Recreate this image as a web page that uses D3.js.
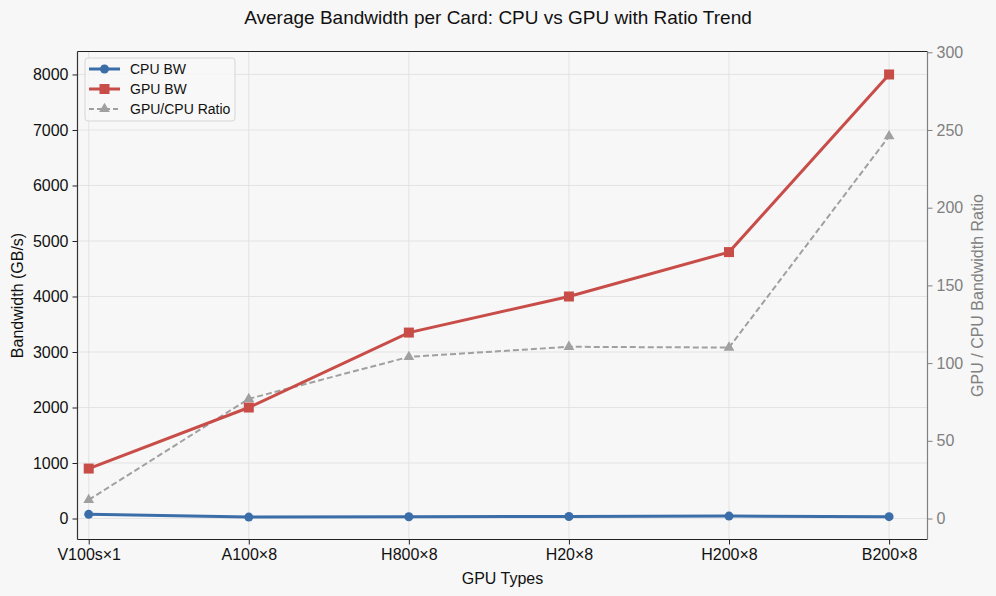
<!DOCTYPE html>
<html>
<head>
<meta charset="utf-8">
<script src="https://cdn.jsdelivr.net/npm/d3@7"></script>
<style>
  body { margin: 0; background: #f7f7f7; }
  svg text { font-family: "Liberation Sans", Arial, sans-serif; }
</style>
</head>
<body>
<div id="chart"></div>
<script>
// data
var categories = ["V100s×1", "A100×8", "H800×8", "H20×8", "H200×8", "B200×8"];
var cpuBW = [75, 26, 32, 36, 44, 33];
var gpuBW = [900, 2000, 3350, 4000, 4800, 8000];
var ratio = [12, 77, 104, 110.5, 110, 246];
var leftTicks = [0, 1000, 2000, 3000, 4000, 5000, 6000, 7000, 8000];
var rightTicks = [0, 50, 100, 150, 200, 250, 300];

(function(){
  "use strict";
  var width = 996, height = 596;
  var m = { left: 77.5, right: 927.5, top: 51.5, bottom: 539.5 };

  var svg = d3.select("#chart").append("svg")
    .attr("width", width)
    .attr("height", height);

  svg.append("rect").attr("width", width).attr("height", height).attr("fill", "#f7f7f7");

  var x = d3.scaleLinear().domain([-0.07, 5.24]).range([m.left, m.right]);
  var yL = d3.scaleLinear().domain([-378, 8414]).range([m.bottom, m.top]);
  var yR = d3.scaleLinear().domain([-13.5, 300.5]).range([m.bottom, m.top]);

  // grid
  var grid = svg.append("g");
  grid.selectAll("line.v").data(categories).enter().append("line")
    .attr("x1", function(d, i){ return x(i); }).attr("x2", function(d, i){ return x(i); })
    .attr("y1", m.top).attr("y2", m.bottom)
    .attr("stroke", "#dedede").attr("stroke-width", 0.8);
  grid.selectAll("line.h").data(leftTicks).enter().append("line")
    .attr("x1", m.left).attr("x2", m.right)
    .attr("y1", function(d){ return yL(d); }).attr("y2", function(d){ return yL(d); })
    .attr("stroke", "#dedede").attr("stroke-width", 0.8);

  // axes
  var xAxis = svg.append("g").attr("transform", "translate(0," + m.bottom + ")")
    .call(d3.axisBottom(x).tickValues(d3.range(categories.length))
      .tickFormat(function(i){ return categories[i]; }).tickSize(5).tickPadding(4));
  var lAxis = svg.append("g").attr("transform", "translate(" + m.left + ",0)")
    .call(d3.axisLeft(yL).tickValues(leftTicks).tickFormat(d3.format("d")).tickSize(5).tickPadding(4));
  var rAxis = svg.append("g").attr("transform", "translate(" + m.right + ",0)")
    .call(d3.axisRight(yR).tickValues(rightTicks).tickFormat(d3.format("d")).tickSize(5).tickPadding(4));

  [xAxis, lAxis].forEach(function(a){
    a.select(".domain").remove();
    a.selectAll("line").attr("stroke", "#222");
    a.selectAll("text").attr("font-size", 16).attr("fill", "#111");
  });
  rAxis.select(".domain").remove();
  rAxis.selectAll("line").attr("stroke", "#808080");
  rAxis.selectAll("text").attr("font-size", 16).attr("fill", "#808080");

  // spines
  svg.append("line").attr("x1", m.left).attr("x2", m.right).attr("y1", m.top).attr("y2", m.top)
    .attr("stroke", "#222").attr("stroke-width", 1.2);
  svg.append("line").attr("x1", m.left).attr("x2", m.right).attr("y1", m.bottom).attr("y2", m.bottom)
    .attr("stroke", "#222").attr("stroke-width", 1.2);
  svg.append("line").attr("x1", m.left).attr("x2", m.left).attr("y1", m.top).attr("y2", m.bottom)
    .attr("stroke", "#333").attr("stroke-width", 1.2);
  svg.append("line").attr("x1", m.right).attr("x2", m.right).attr("y1", m.top).attr("y2", m.bottom)
    .attr("stroke", "#808080").attr("stroke-width", 1.2);

  var blue = "#3b6ea8", red = "#c84d48", gray = "#a0a0a0";

  // ratio line (behind)
  var lineR = d3.line().x(function(d, i){ return x(i); }).y(function(d){ return yR(d); });
  svg.append("path").attr("d", lineR(ratio)).attr("fill", "none")
    .attr("stroke", gray).attr("stroke-width", 2).attr("stroke-dasharray", "6,3");
  var tri = d3.symbol().type(d3.symbolTriangle).size(50);
  svg.selectAll("path.tri").data(ratio).enter().append("path")
    .attr("d", tri).attr("fill", gray)
    .attr("transform", function(d, i){ return "translate(" + x(i) + "," + yR(d) + ")"; });

  var lineL = d3.line().x(function(d, i){ return x(i); }).y(function(d){ return yL(d); });
  svg.append("path").attr("d", lineL(cpuBW)).attr("fill", "none")
    .attr("stroke", blue).attr("stroke-width", 3);
  svg.selectAll("circle.cpu").data(cpuBW).enter().append("circle")
    .attr("cx", function(d, i){ return x(i); }).attr("cy", function(d){ return yL(d); })
    .attr("r", 4.5).attr("fill", blue);

  svg.append("path").attr("d", lineL(gpuBW)).attr("fill", "none")
    .attr("stroke", red).attr("stroke-width", 3);
  svg.selectAll("rect.gpu").data(gpuBW).enter().append("rect")
    .attr("x", function(d, i){ return x(i) - 5; }).attr("y", function(d){ return yL(d) - 5; })
    .attr("width", 10).attr("height", 10).attr("fill", red);

  // titles
  svg.append("text").attr("x", 498).attr("y", 24).attr("text-anchor", "middle")
    .attr("font-size", 19).attr("fill", "#111")
    .text("Average Bandwidth per Card: CPU vs GPU with Ratio Trend");
  svg.append("text").attr("x", (m.left + m.right) / 2).attr("y", 584).attr("text-anchor", "middle")
    .attr("font-size", 16).attr("fill", "#111").text("GPU Types");
  svg.append("text").attr("transform", "translate(23," + (m.top + m.bottom) / 2 + ") rotate(-90)")
    .attr("text-anchor", "middle").attr("font-size", 16).attr("fill", "#111").text("Bandwidth (GB/s)");
  svg.append("text").attr("transform", "translate(983," + (m.top + m.bottom) / 2 + ") rotate(-90)")
    .attr("text-anchor", "middle").attr("font-size", 16).attr("fill", "#808080").text("GPU / CPU Bandwidth Ratio");

  // legend
  var lg = svg.append("g").attr("transform", "translate(85,58)");
  lg.append("rect").attr("width", 150).attr("height", 63).attr("rx", 3)
    .attr("fill", "#f7f7f7").attr("fill-opacity", 0.8).attr("stroke", "#d6d6d6");
  var items = [
    { name: "CPU BW", color: blue, dash: null, w: 3, mark: "circle" },
    { name: "GPU BW", color: red, dash: null, w: 3, mark: "square" },
    { name: "GPU/CPU Ratio", color: gray, dash: "5,3", w: 2, mark: "tri" }
  ];
  items.forEach(function(it, i){
    var yy = 11 + i * 20;
    lg.append("line").attr("x1", 4).attr("x2", 35).attr("y1", yy).attr("y2", yy)
      .attr("stroke", it.color).attr("stroke-width", it.w).attr("stroke-dasharray", it.dash);
    if (it.mark === "circle") lg.append("circle").attr("cx", 19.5).attr("cy", yy).attr("r", 4.5).attr("fill", it.color);
    if (it.mark === "square") lg.append("rect").attr("x", 14.5).attr("y", yy - 5).attr("width", 10).attr("height", 10).attr("fill", it.color);
    if (it.mark === "tri") lg.append("path").attr("d", tri).attr("fill", it.color).attr("transform", "translate(19.5," + yy + ")");
    lg.append("text").attr("x", 45).attr("y", yy + 5).attr("font-size", 14).attr("fill", "#111").text(it.name);
  });
})();
</script>
</body>
</html>
